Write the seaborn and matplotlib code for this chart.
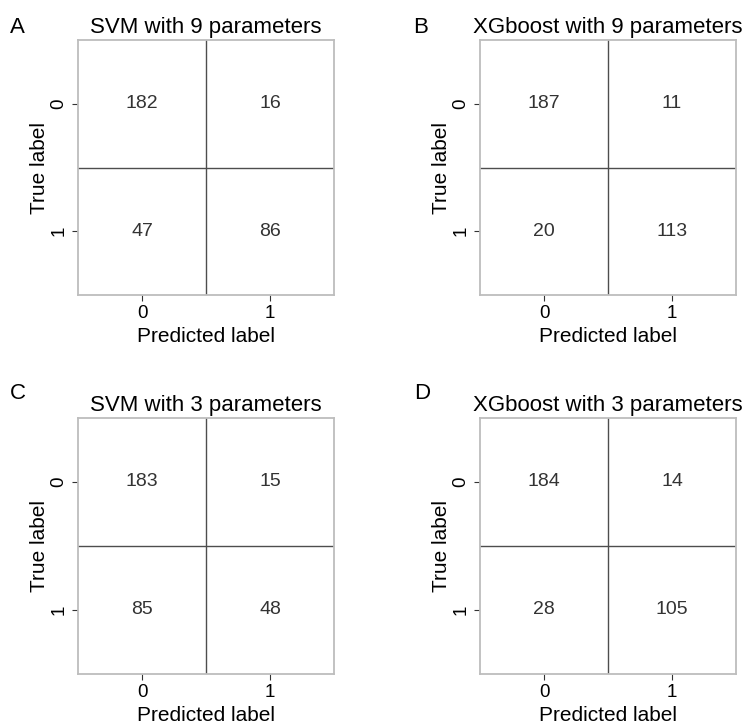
import numpy as np
import matplotlib
matplotlib.use("Agg")
import matplotlib.pyplot as plt
from matplotlib.colors import ListedColormap
import seaborn as sns

# Confusion matrices (rows: true label, cols: predicted label)
svm_9 = [[182, 16], [47, 86]]
xgb_9 = [[187, 11], [20, 113]]
svm_3 = [[183, 15], [85, 48]]
xgb_3 = [[184, 14], [28, 105]]

titles = ["SVM with 9 parameters", "XGboost with 9 parameters",
          "SVM with 3 parameters", "XGboost with 3 parameters"]
panel_letters = ["A", "B", "C", "D"]
class_labels = ["0", "1"]

sns.set_style("white")
plt.rcParams["font.family"] = ["Liberation Sans", "DejaVu Sans"]
plt.rcParams["text.color"] = "black"
plt.rcParams["axes.labelcolor"] = "black"
plt.rcParams["xtick.labelcolor"] = "black"
plt.rcParams["ytick.labelcolor"] = "black"

W, H = 748, 721
fig = plt.figure(figsize=(W / 100, H / 100), dpi=100)

# axes boxes in pixels: left, top, width, height
boxes = [(78, 40, 256, 255), (480, 40, 256, 255),
         (78, 418, 256, 256), (480, 418, 256, 256)]
letter_pos = [(10, 33), (413, 33), (10, 399), (414, 399)]

for mat, title, letter, box, lp in zip([svm_9, xgb_9, svm_3, xgb_3], titles,
                                       panel_letters, boxes, letter_pos):
    l, t, w, h = box
    ax = fig.add_axes([l / W, 1 - (t + h) / H, w / W, h / H])
    sns.heatmap(np.array(mat), ax=ax, cmap=ListedColormap(["white"]),
                annot=True, fmt="d", cbar=False,
                xticklabels=class_labels, yticklabels=class_labels,
                annot_kws={"fontsize": 14, "color": "#333333"})
    ax.axhline(1, color="#4d4d4d", lw=1.0)
    ax.axvline(1, color="#4d4d4d", lw=1.0)
    for s in ax.spines.values():
        s.set_visible(True)
        s.set_color("#bdbdbd")
        s.set_linewidth(1.3)
    ax.tick_params(axis="both", which="major", length=4, width=0.8,
                   color="#333333", labelcolor="black", labelsize=13.5,
                   pad=3.5, bottom=True, left=True)
    plt.setp(ax.get_xticklabels(), rotation=0)
    plt.setp(ax.get_yticklabels(), rotation=90, va="center")
    ax.set_xlabel("Predicted label", fontsize=15, labelpad=3)
    ax.set_ylabel("True label", fontsize=15, labelpad=1)
    ax.set_title(title, fontsize=16, pad=5)
    fig.text(lp[0] / W, 1 - lp[1] / H, letter, fontsize=16,
             ha="left", va="baseline")

fig.savefig("out.png", dpi=100)
